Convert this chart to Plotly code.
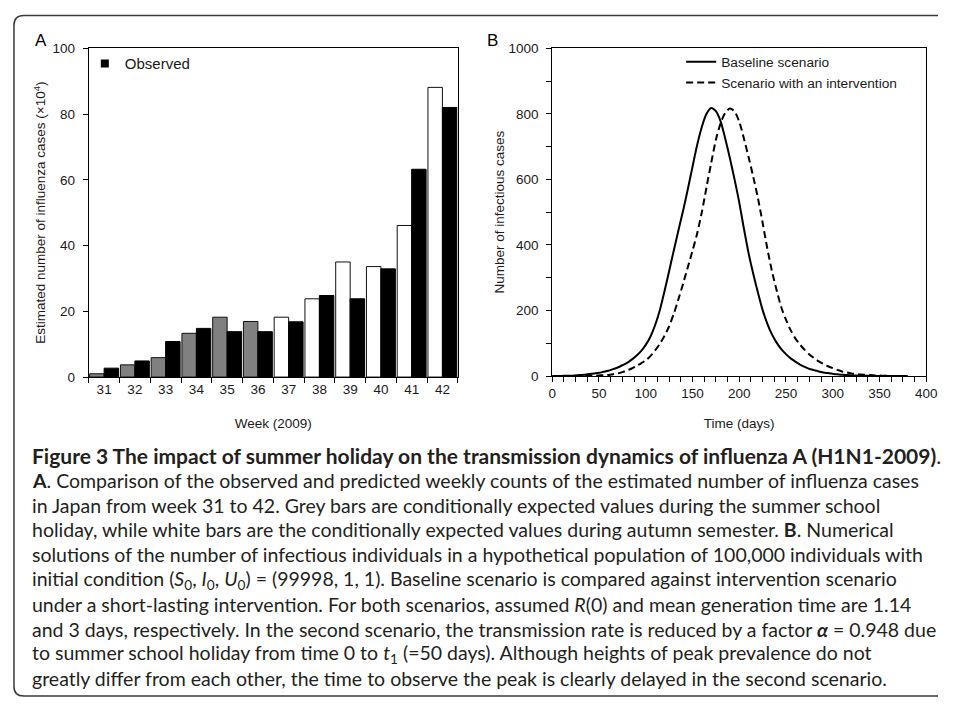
import plotly.graph_objects as go

# page is 957x713; the browser adds an 8px body margin, so the figure is sized to fit inside it
PAGE_W, PAGE_H = 957, 713
OFF = 8
W, H = PAGE_W - 2 * OFF, PAGE_H - 2 * OFF

# ---------- Panel A data ----------
weeks = ["31", "32", "33", "34", "35", "36", "37", "38", "39", "40", "41", "42"]
expected = [1.0, 3.7, 5.9, 13.3, 18.2, 16.9, 18.2, 23.8, 35.0, 33.6, 46.1, 88.1]
observed = [2.7, 4.9, 10.8, 14.8, 13.8, 13.8, 16.8, 24.8, 23.8, 32.9, 63.2, 82.0]
expected_colors = ["#808080"] * 6 + ["#ffffff"] * 6

# ---------- Panel B data (read every 5 days) ----------
days = list(range(0, 385, 5))
baseline = [0, 0.3, 0.5, 0.8, 1.2, 2, 3, 4, 6, 8, 10, 13, 16, 21, 26, 33, 40, 50, 62, 76,
            95, 120, 155, 200, 258, 320, 383, 445, 505, 570, 638, 705, 760, 800, 818,
            808, 778, 725, 665, 600, 530, 450, 375, 312, 255, 202, 160, 127, 102, 82,
            67, 54, 44, 35, 28, 22, 18, 14, 11, 9, 7, 5.5, 4, 3, 2, 1.5, 1, 0.7, 0.5,
            0.3, 0.2, 0.1, 0, 0, 0, 0, 0]
intervention = [0, 0.2, 0.3, 0.4, 0.5, 0.6, 0.8, 0.9, 1, 1.5, 2, 2.5, 3.5, 5.5, 8, 12, 17,
                23, 31, 39, 48, 61, 78, 98, 122, 152, 190, 235, 282, 332, 382, 435, 500,
                576, 650, 720, 770, 803, 816, 807, 776, 725, 668, 608, 543, 468, 390, 320,
                262, 210, 172, 140, 115, 96, 80, 66, 55, 45, 37, 30, 24, 19, 14, 11, 8,
                6.5, 5, 4, 3, 2, 1.5, 1, 0.5, 0.3, 0.2, 0.1, 0]

chart_font = "Liberation Sans, Arial, sans-serif"
txt = "#1a1a1a"

fig = go.Figure()

fig.add_trace(go.Bar(x=weeks, y=expected, name="Expected", showlegend=False,
                     marker=dict(color=expected_colors, line=dict(color="#111", width=1)),
                     xaxis="x", yaxis="y"))
fig.add_trace(go.Bar(x=weeks, y=observed, name="Observed", showlegend=False,
                     legendgroup="obs",
                     marker=dict(color="#000000", line=dict(color="#000", width=1)),
                     xaxis="x", yaxis="y"))
# legend entry for observed bars
fig.add_trace(go.Scatter(x=[None], y=[None], mode="markers", name="Observed",
                         legendgroup="obs", legend="legend",
                         marker=dict(symbol="square", size=8, color="#000"),
                         xaxis="x", yaxis="y"))

fig.add_trace(go.Scatter(x=days, y=baseline, mode="lines", name="Baseline scenario",
                         line=dict(color="#000", width=2, shape="spline", smoothing=0.8),
                         legend="legend2", xaxis="x2", yaxis="y2"))
fig.add_trace(go.Scatter(x=days, y=intervention, mode="lines",
                         name="Scenario with an intervention",
                         line=dict(color="#000", width=2, dash="7px,4px", shape="spline",
                                   smoothing=0.8),
                         legend="legend2", xaxis="x2", yaxis="y2"))


def px_x(p):
    return (p - OFF) / W


def px_y(p):
    return 1 - (p - OFF) / H


axis_common = dict(showline=True, linecolor="#000", linewidth=1, mirror=True,
                   ticks="outside", ticklen=5, tickcolor="#000", tickwidth=1,
                   showgrid=False, zeroline=False,
                   tickfont=dict(family=chart_font, size=13.5, color=txt))
title_font = dict(size=13.5, family=chart_font, color=txt)

fig.update_layout(
    width=W, height=H,
    margin=dict(l=0, r=0, t=0, b=0),
    paper_bgcolor="white", plot_bgcolor="white",
    barmode="group", bargap=0.06, bargroupgap=0,
    font=dict(family=chart_font, color=txt),
    xaxis=dict(domain=[px_x(86), px_x(461)], anchor="y", type="category",
               tickson="boundaries", range=[-0.5, 11.5],
               title=dict(text="Week (2009)", font=title_font, standoff=22),
               **axis_common),
    yaxis=dict(domain=[px_y(378), px_y(42)], anchor="x", range=[0, 100], dtick=20,
               ticklabelstandoff=5,
               title=dict(text="Estimated number of influenza cases (×10<sup>4</sup>)",
                          font=title_font, standoff=3),
               **axis_common),
    xaxis2=dict(domain=[px_x(557), px_x(937)], anchor="y2", range=[0, 400], dtick=50,
                minor=dict(dtick=12.5, ticks="outside", ticklen=5, tickcolor="#000"),
                title=dict(text="Time (days)", font=title_font, standoff=18),
                **axis_common),
    yaxis2=dict(domain=[px_y(377), px_y(42)], anchor="x2", range=[0, 1000], dtick=200,
                minor=dict(dtick=100, ticks="outside", ticklen=5, tickcolor="#000"),
                ticklabelstandoff=5,
                title=dict(text="Number of infectious cases", font=title_font,
                           standoff=0),
                **axis_common),
    legend=dict(x=px_x(82), y=px_y(41), xanchor="left", yanchor="top",
                bgcolor="rgba(0,0,0,0)", font=dict(size=15, family=chart_font, color=txt),
                itemwidth=30),
    legend2=dict(x=px_x(688), y=px_y(40), xanchor="left", yanchor="top",
                 bgcolor="rgba(0,0,0,0)",
                 font=dict(size=13.7, family=chart_font, color=txt),
                 itemwidth=30),
)

# panel letters
for letter, lx in (("A", 37), ("B", 496)):
    fig.add_annotation(text=letter, x=px_x(lx), y=px_y(34), xref="paper", yref="paper",
                       xanchor="center", yanchor="middle", showarrow=False,
                       font=dict(size=17, family=chart_font, color="#000"))

# caption
caption_lines = [
    "<b>Figure 3 The impact of summer holiday on the transmission dynamics of influenza A (H1N1-2009)</b>.",
    "<b>A</b>. Comparison of the observed and predicted weekly counts of the estimated number of influenza cases",
    "in Japan from week 31 to 42. Grey bars are conditionally expected values during the summer school",
    "holiday, while white bars are the conditionally expected values during autumn semester. <b>B</b>. Numerical",
    "solutions of the number of infectious individuals in a hypothetical population of 100,000 individuals with",
    "initial condition (<i>S</i><sub>0</sub>, <i>I</i><sub>0</sub>, <i>U</i><sub>0</sub>) = (99998, 1, 1). Baseline scenario is compared against intervention scenario",
    "under a short-lasting intervention. For both scenarios, assumed <i>R</i>(0) and mean generation time are 1.14",
    "and 3 days, respectively. In the second scenario, the transmission rate is reduced by a factor <b><i>α</i></b> = 0.948 due",
    "to summer school holiday from time 0 to <i>t</i><sub>1</sub> (=50 days). Although heights of peak prevalence do not",
    "greatly differ from each other, the time to observe the peak is clearly delayed in the second scenario.",
]
cap_font = "Lato, Open Sans, sans-serif"
for i, line in enumerate(caption_lines):
    fig.add_annotation(text=line, x=px_x(26), y=px_y(458 + 25.4 * i), xref="paper",
                       yref="paper", xanchor="left", yanchor="middle", showarrow=False,
                       align="left",
                       font=dict(size=21 if i == 0 else 19.5, family=cap_font,
                                 color="#231f20"))

# rounded frame
r = 10
top, bot, left = 8.5, 704, 10
path = (f"M {px_x(PAGE_W - OFF)},{px_y(top)} L {px_x(left + r)},{px_y(top)} "
        f"Q {px_x(left)},{px_y(top)} {px_x(left)},{px_y(top + r)} "
        f"L {px_x(left)},{px_y(bot - r)} Q {px_x(left)},{px_y(bot)} {px_x(left + r)},{px_y(bot)} "
        f"L {px_x(PAGE_W - OFF)},{px_y(bot)}")
fig.add_shape(type="path", path=path, xref="paper", yref="paper",
              line=dict(color="#3a3a3a", width=1.5))

fig.write_html("out.html", config={"displayModeBar": False})
